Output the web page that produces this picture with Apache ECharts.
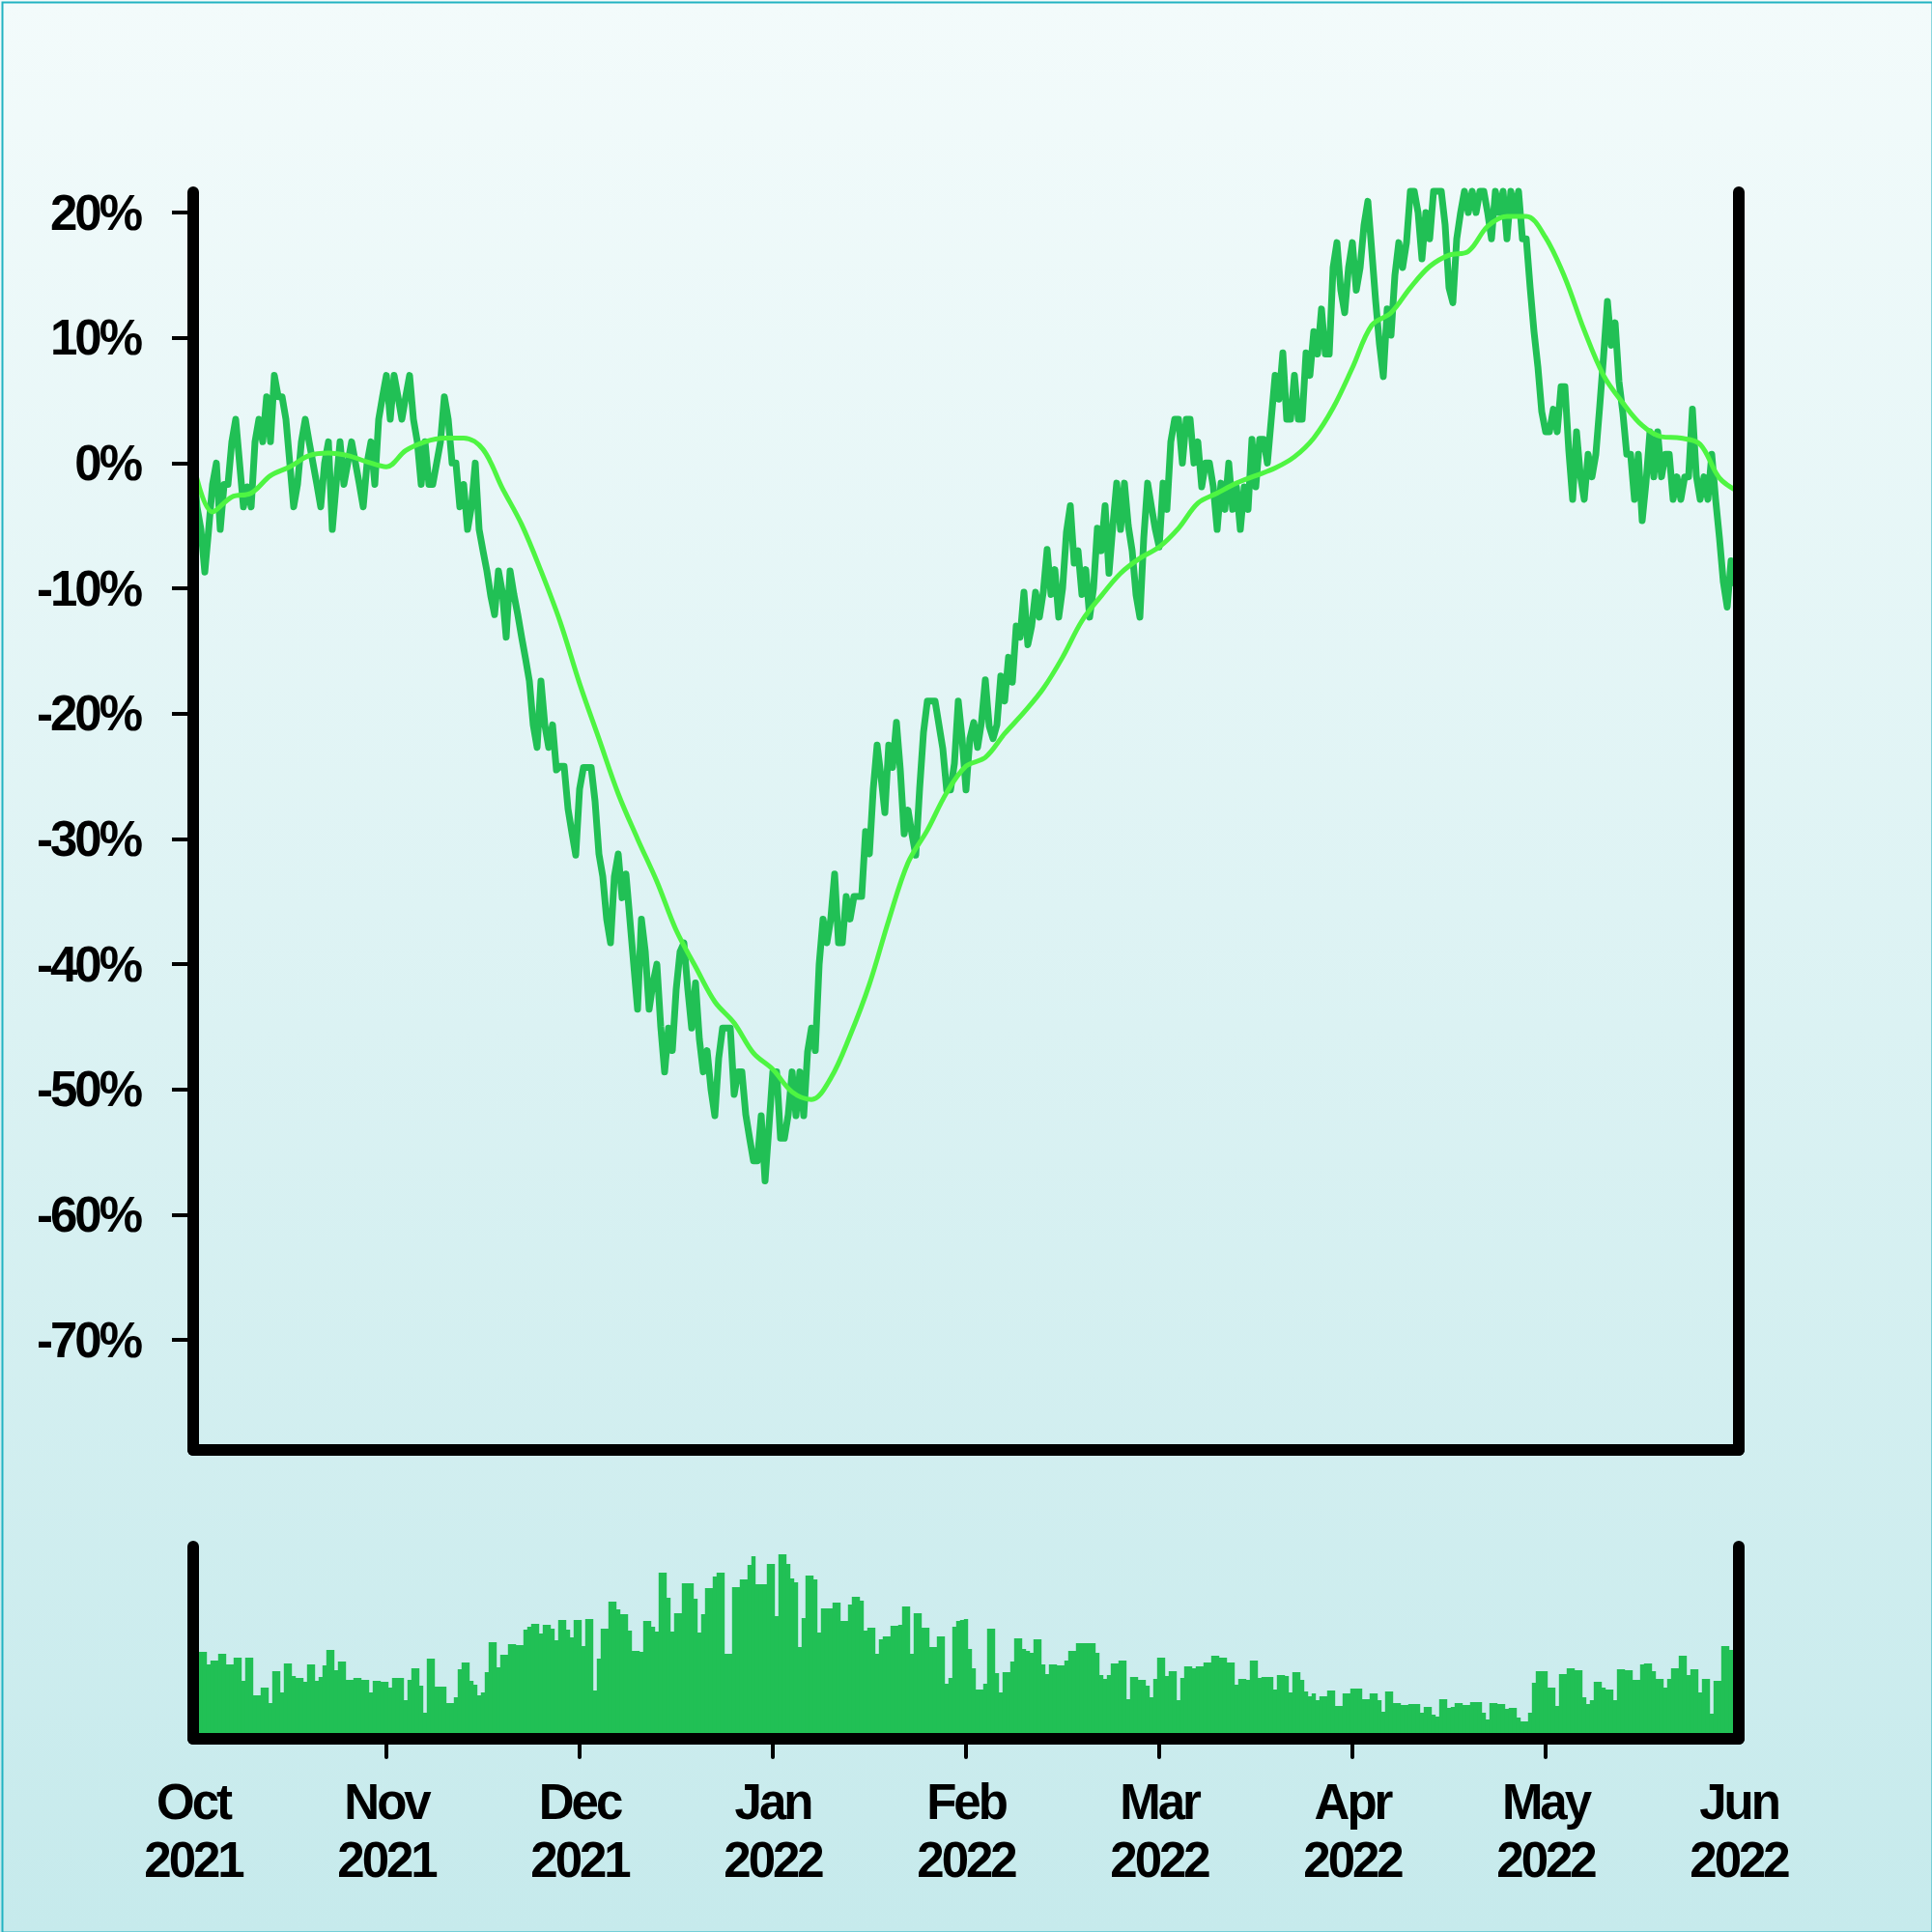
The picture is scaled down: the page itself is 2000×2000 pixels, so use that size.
<!DOCTYPE html>
<html>
<head>
<meta charset="utf-8">
<script src="https://cdn.jsdelivr.net/npm/echarts@6/dist/echarts.min.js"></script>
<style>
  html, body { margin: 0; padding: 0; }
  #chart { width: 2000px; height: 2000px; }
  #chart text { letter-spacing: -3px; }
</style>
</head>
<body>
<div id="chart"></div>
<script>
// ---- data ----
const monthLabels = ['Oct\n2021', 'Nov\n2021', 'Dec\n2021', 'Jan\n2022', 'Feb\n2022', 'Mar\n2022', 'Apr\n2022', 'May\n2022', 'Jun\n2022'];
const pointsPerMonth = 50;
const yTickValues = [-70, -60, -50, -40, -30, -20, -10, 0, 10, 20];
const monthTickValues = [1, 2, 3, 4, 5, 6, 7];
const monthLabelValues = [0, 1, 2, 3, 4, 5, 6, 7, 8];

// price change, % (one value per step)
const closePct = [
  0, -3.5, -5.3, -8.7, -5.3, -1.7, 0, -5.3, -1.7, -1.7,
  1.7, 3.5, 0, -3.5, -1.9, -3.5, 1.7, 3.5, 1.7, 5.3,
  1.7, 7.0, 5.3, 5.3, 3.5, 0, -3.5, -1.7, 1.7, 3.5,
  1.7, 0, -1.7, -3.5, 0, 1.7, -5.3, -1.7, 1.7, -1.7,
  0, 1.7, 0, -1.7, -3.5, 0, 1.7, -1.7, 3.5, 5.3,
  7.0, 3.5, 7.0, 5.3, 3.5, 5.3, 7.0, 3.5, 1.7, -1.7,
  1.7, -1.7, -1.7, 0, 1.7, 5.3, 3.5, 0, 0, -3.5,
  -1.7, -5.3, -3.5, 0, -5.3, -7.0, -8.6, -10.6, -12.1, -8.6,
  -10.3, -13.9, -8.6, -10.5, -12.1, -13.9, -15.6, -17.4, -20.9, -22.7,
  -17.4, -20.9, -22.7, -20.9, -24.5, -24.2, -24.2, -27.6, -29.5, -31.3,
  -26.0, -24.3, -24.3, -24.3, -27, -31.2, -33, -36.4, -38.3, -33,
  -31.2, -34.7, -32.8, -36.4, -40, -43.6, -36.4, -39, -43.6, -41.5,
  -40, -45, -48.6, -45.1, -46.9, -42, -39, -38.3, -42, -45.1,
  -41.5, -46, -48.6, -46.9, -50, -52.1, -47.5, -45.1, -45.1, -45.1,
  -50.4, -48.6, -48.6, -52, -53.9, -55.7, -55.7, -52.1, -57.3, -53,
  -48.6, -48.6, -53.9, -53.9, -52, -48.6, -52.1, -48.6, -52.1, -47,
  -45.1, -46.9, -40, -36.4, -38.3, -36.4, -32.8, -38.3, -38.3, -34.6,
  -36.4, -34.6, -34.6, -34.6, -29.4, -31.2, -26, -22.5, -25, -27.9,
  -22.5, -24.3, -20.7, -24.5, -29.6, -27.7, -29.6, -31.3, -26, -21.5,
  -19, -19, -19, -20.9, -22.8, -26.1, -26.1, -24, -19, -22,
  -26.1, -22, -20.7, -22.7, -20.7, -17.3, -21, -22, -20.9, -17,
  -19, -15.5, -17.5, -13, -13.9, -10.3, -14.5, -13, -10.3, -12.3,
  -10.3, -6.9, -10.5, -8.5, -12.3, -10, -5.5, -3.4, -8, -7,
  -10.5, -8.5, -12.3, -10, -5.2, -7.0, -3.4, -8.8, -5, -1.6,
  -5.3, -1.6, -5, -7.0, -10.5, -12.3, -6, -1.6, -3.5, -5.3,
  -6.7, -1.6, -3.7, 1.7, 3.5, 3.5, 0, 3.5, 3.5, 0,
  1.7, -1.9, 0, 0, -1.9, -5.3, -1.6, -3.7, 0, -3.7,
  -1.9, -5.3, -1.9, -3.7, 1.9, -1.9, 1.9, 1.9, 0, 3.5,
  7.0, 5.1, 8.8, 3.5, 3.5, 7.0, 3.5, 3.5, 8.8, 7.0,
  10.5, 8.7, 12.3, 8.7, 8.7, 15.6, 17.6, 13.8, 12.0, 15.6,
  17.6, 13.8, 15.6, 19, 20.9, 17, 13, 9.5, 6.9, 12.3,
  10.2, 15, 17.6, 15.6, 17.6, 21.7, 21.7, 20.0, 16.3, 20.0,
  17.9, 21.7, 21.7, 21.7, 19, 14, 12.8, 17.9, 20.0, 21.7,
  20.0, 21.7, 20.0, 21.7, 21.7, 20.0, 17.9, 21.7, 20.0, 21.7,
  17.9, 21.7, 20.0, 21.7, 17.9, 17.9, 14, 10.5, 7.7, 4.1,
  2.5, 2.5, 4.3, 2.5, 6.1, 6.1, 1, -2.9, 2.5, -1,
  -2.9, 0.7, -1.1, 0.7, 4.5, 8.5, 12.9, 9.4, 11.2, 6.5,
  4, 0.7, 0.7, -2.9, 0.7, -4.6, -1.5, 2.5, -1.1, 2.5,
  -1.1, 0.7, 0.7, -2.9, -1.1, -2.9, -1.1, -1.1, 4.3, -1,
  -2.9, -1.1, -2.9, 0.7, -2.9, -6, -9.5, -11.5, -7.8, -9.8
];

// moving average, % (one value every maStep steps)
const maStep = 5;
const maPct = [
  0, -3.9, -2.7, -2.4, -1.0, -0.3, 0.6, 0.8, 0.6, 0.1,
  -0.3, 1.0, 1.7, 2.0, 2.0, 1.1, -2.0, -4.9, -8.6, -12.7,
  -17.6, -22.0, -26.4, -30.0, -33.4, -37.3, -40.2, -43.0, -44.7, -47.1,
  -48.4, -50.2, -50.8, -49.1, -45.7, -41.6, -36.5, -31.9, -29.3, -26.3,
  -24.2, -23.5, -21.6, -19.9, -18.0, -15.5, -12.6, -10.6, -8.8, -7.6,
  -6.7, -5.2, -3.2, -2.4, -1.6, -1.0, -0.4, 0.5, 2.0, 4.4,
  7.6, 11.0, 12.0, 14.0, 15.7, 16.6, 16.9, 18.9, 19.7, 19.7,
  18.0, 14.8, 10.6, 7.0, 4.8, 3.0, 2.1, 2.0, 1.5, -1.2,
  -2.3
];

// volume (arbitrary units)
const volume = [
  90, 90, 90, 90, 77, 81, 81, 88, 88, 77,
  77, 84, 84, 60, 84, 84, 45, 45, 53, 53,
  37, 70, 70, 48, 78, 78, 65, 63, 63, 59,
  77, 77, 60, 64, 76, 92, 92, 71, 80, 80,
  61, 61, 63, 63, 61, 61, 48, 60, 60, 59,
  59, 53, 63, 63, 63, 40, 61, 73, 73, 55,
  27, 83, 83, 54, 54, 54, 37, 37, 43, 72,
  79, 79, 60, 56, 45, 48, 69, 100, 100, 74,
  87, 87, 98, 98, 97, 97, 113, 116, 119, 119,
  109, 118, 118, 114, 102, 123, 123, 113, 105, 123,
  123, 96, 124, 124, 50, 83, 114, 114, 142, 142,
  134, 129, 129, 112, 91, 91, 90, 122, 122, 116,
  111, 172, 172, 146, 111, 130, 130, 161, 161, 161,
  145, 110, 129, 156, 156, 168, 172, 172, 88, 88,
  157, 157, 165, 165, 180, 189, 160, 160, 160, 181,
  181, 127, 191, 191, 181, 166, 162, 95, 125, 169,
  169, 165, 110, 135, 135, 135, 141, 141, 122, 122,
  139, 147, 147, 143, 112, 115, 115, 88, 103, 106,
  106, 117, 117, 118, 137, 137, 88, 130, 130, 115,
  115, 95, 95, 106, 106, 57, 63, 116, 122, 123,
  124, 93, 73, 51, 51, 57, 114, 114, 68, 48,
  69, 69, 80, 104, 104, 93, 91, 89, 103, 103,
  77, 67, 77, 77, 76, 76, 81, 91, 91, 99,
  99, 99, 99, 99, 89, 66, 62, 66, 78, 78,
  81, 81, 41, 64, 64, 61, 61, 55, 43, 62,
  84, 84, 65, 70, 70, 40, 63, 75, 75, 73,
  75, 75, 79, 79, 86, 86, 84, 84, 79, 79,
  56, 62, 62, 61, 81, 81, 63, 64, 64, 64,
  51, 66, 66, 65, 48, 69, 69, 61, 49, 44,
  47, 40, 44, 44, 50, 50, 34, 34, 47, 47,
  52, 52, 52, 41, 41, 47, 47, 40, 28, 49,
  49, 37, 37, 35, 35, 36, 36, 36, 27, 33,
  33, 25, 23, 41, 41, 32, 33, 37, 37, 35,
  35, 38, 38, 38, 27, 20, 37, 37, 36, 36,
  31, 32, 32, 22, 18, 18, 27, 58, 70, 70,
  70, 53, 53, 34, 67, 67, 73, 73, 71, 71,
  43, 36, 40, 59, 59, 53, 51, 51, 40, 72,
  72, 71, 71, 61, 61, 77, 78, 78, 70, 62,
  62, 53, 62, 73, 73, 86, 86, 66, 72, 72,
  48, 62, 62, 26, 60, 60, 96, 96, 92, 92
];

// ---- chart ----
const FONT = '"Liberation Sans", Arial, Helvetica, sans-serif';
const lineGreen = '#21c055';
const maGreen = '#4ef542';
const black = '#000000';

const axisLineStyle = { color: black, width: 12, cap: 'round' };

const chart = echarts.init(document.getElementById('chart'), null, { renderer: 'svg', width: 2000, height: 2000 });

const option = {
  animation: false,
  backgroundColor: {
    type: 'linear', x: 0, y: 0, x2: 0, y2: 1,
    colorStops: [{ offset: 0, color: '#f3fbfb' }, { offset: 1, color: '#c6eaec' }]
  },
  graphic: [{
    type: 'rect', left: 0, top: 0, z: 100, silent: true,
    shape: { x: 0, y: 0, width: 1998, height: 1998 },
    style: { fill: 'none', stroke: '#22b3c2', lineWidth: 2 }
  }],
  grid: [
    { left: 200, top: 199, width: 1600, height: 1302, containLabel: false, outerBoundsMode: 'none' },
    { left: 200, top: 1601, width: 1600, height: 199, containLabel: false, outerBoundsMode: 'none' }
  ],
  xAxis: [
    {
      type: 'value', gridIndex: 0, min: 0, max: 8, z: 10,
      axisLine: { show: true, onZero: false, lineStyle: axisLineStyle },
      axisTick: { show: false }, axisLabel: { show: false }, splitLine: { show: false }
    },
    {
      type: 'value', gridIndex: 1, min: 0, max: 8, z: 10,
      axisLine: { show: true, onZero: false, lineStyle: axisLineStyle },
      axisTick: { show: true, length: 19, customValues: monthTickValues, lineStyle: { color: black, width: 4, cap: 'round' } },
      axisLabel: {
        show: true, customValues: monthLabelValues, margin: 35,
        formatter: v => monthLabels[Math.round(v)],
        color: black, fontFamily: FONT, fontWeight: 'bold', fontSize: 51, lineHeight: 60, align: 'center'
      },
      splitLine: { show: false }
    }
  ],
  yAxis: [
    {
      type: 'value', gridIndex: 0, position: 'left', min: -78.78, max: 21.62, z: 10,
      axisLine: { show: true, onZero: false, lineStyle: axisLineStyle },
      axisTick: { show: true, length: 22, customValues: yTickValues, lineStyle: { color: black, width: 4 } },
      axisLabel: {
        show: true, customValues: yTickValues, margin: 55,
        formatter: v => Math.round(v) + '%',
        color: black, fontFamily: FONT, fontWeight: 'bold', fontSize: 51
      },
      splitLine: { show: false }
    },
    {
      type: 'value', gridIndex: 0, position: 'right', min: -78.78, max: 21.62, z: 10,
      axisLine: { show: true, onZero: false, lineStyle: axisLineStyle },
      axisTick: { show: false }, axisLabel: { show: false }, splitLine: { show: false }
    },
    {
      type: 'value', gridIndex: 1, position: 'left', min: 0, max: 199, z: 10,
      axisLine: { show: true, onZero: false, lineStyle: axisLineStyle },
      axisTick: { show: false }, axisLabel: { show: false }, splitLine: { show: false }
    },
    {
      type: 'value', gridIndex: 1, position: 'right', min: 0, max: 199, z: 10,
      axisLine: { show: true, onZero: false, lineStyle: axisLineStyle },
      axisTick: { show: false }, axisLabel: { show: false }, splitLine: { show: false }
    }
  ],
  series: [
    {
      name: 'Change', type: 'line', xAxisIndex: 0, yAxisIndex: 0,
      data: closePct.map((v, i) => [i / pointsPerMonth, v]),
      showSymbol: false, clip: false, z: 3,
      lineStyle: { color: lineGreen, width: 7, join: 'round' }
    },
    {
      name: 'MA', type: 'line', xAxisIndex: 0, yAxisIndex: 0,
      data: maPct.map((v, k) => [k * maStep / pointsPerMonth, v]),
      showSymbol: false, clip: false, smooth: 0.35, z: 4,
      lineStyle: { color: maGreen, width: 5, join: 'round' }
    },
    {
      name: 'Volume', type: 'bar', xAxisIndex: 1, yAxisIndex: 2,
      data: volume.map((v, i) => [i / pointsPerMonth, v]),
      barWidth: 4.4, z: 2,
      itemStyle: { color: lineGreen }
    }
  ]
};
chart.setOption(option);
</script>
</body>
</html>
